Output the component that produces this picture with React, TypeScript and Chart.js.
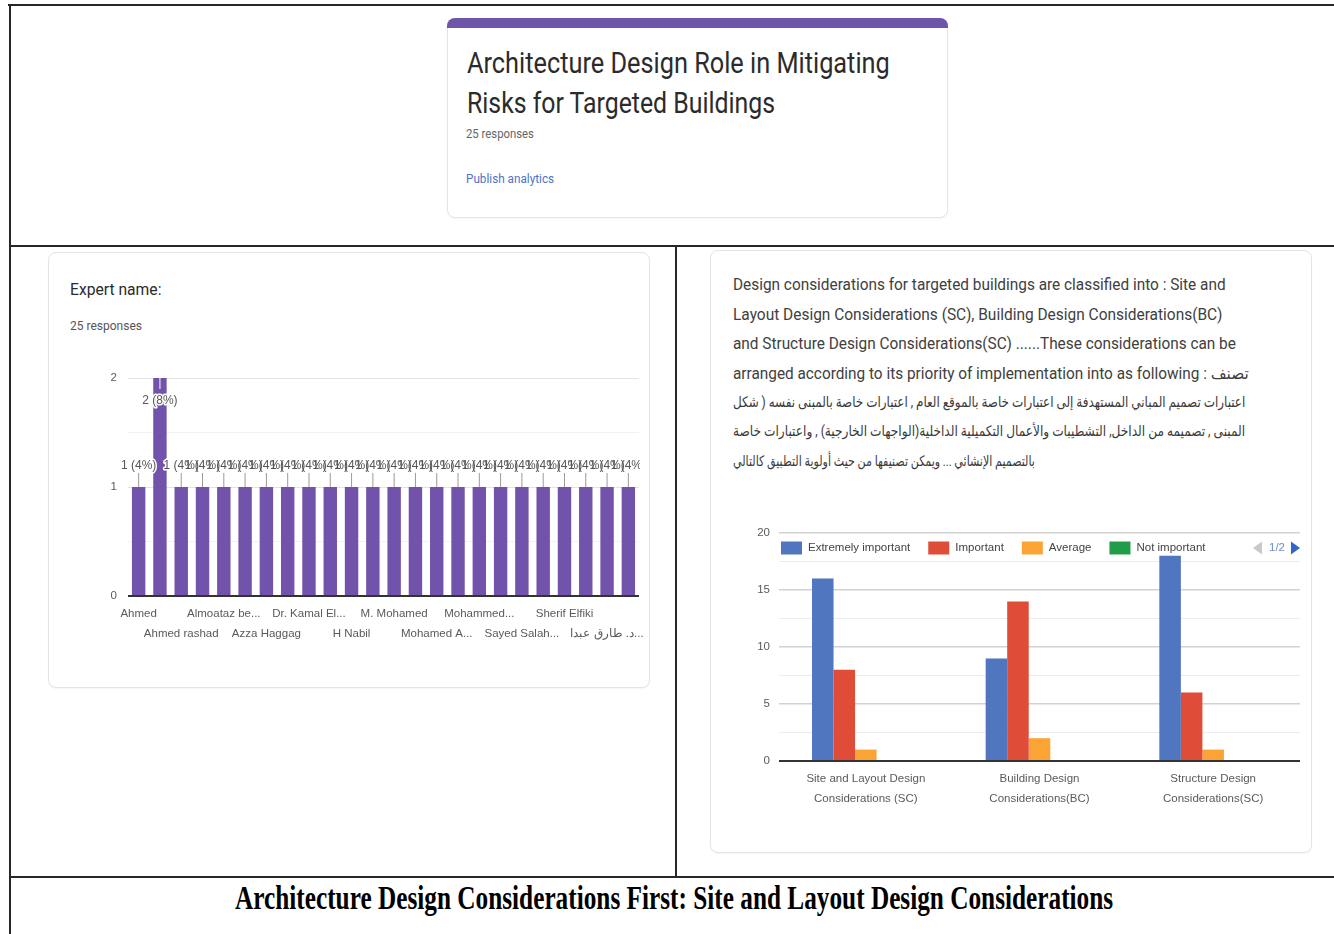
import React, { useEffect, useLayoutEffect, useRef, useState } from "react";
import { Chart, registerables } from "chart.js";
Chart.register(...registerables);

// ---------- data ----------
const RESPONSES = 25;
const formTitleLines = ["Architecture Design Role in Mitigating", "Risks for Targeted Buildings"];
const captionText = "Architecture Design Considerations First: Site and Layout Design Considerations";

const expertNames = [
  "Ahmed", "Expert 2", "Ahmed rashad", "Expert 4", "Almoataz be...", "Expert 6",
  "Azza Haggag", "Expert 8", "Dr. Kamal El...", "Expert 10", "H Nabil", "Expert 12",
  "M. Mohamed", "Expert 14", "Mohamed A...", "Expert 16", "Mohammed...", "Expert 18",
  "Sayed Salah...", "Expert 20", "Sherif Elfiki", "Expert 22", "د. طارق عبدا...", "Expert 24",
];
const expertCounts = [1, 2, 1, 1, 1, 1, 1, 1, 1, 1, 1, 1, 1, 1, 1, 1, 1, 1, 1, 1, 1, 1, 1, 1];
const expertYTicks = [0, 1, 2];

const questionLines = [
  "Design considerations for targeted buildings are classified into : Site and",
  "Layout Design Considerations (SC), Building Design Considerations(BC)",
  "and Structure Design Considerations(SC) ......These considerations can be",
  "arranged according to its priority of implementation into as following : تصنف",
];
const questionArabicLines = [
  "اعتبارات تصميم المباني المستهدفة إلى اعتبارات خاصة بالموقع العام , اعتبارات خاصة بالمبنى نفسه ( شكل",
  "المبنى , تصميمه من الداخل, التشطيبات والأعمال التكميلية الداخلية(الواجهات الخارجية) , واعتبارات خاصة",
  "بالتصميم الإنشائي ... ويمكن تصنيفها من حيث أولوية التطبيق كالتالي",
];

const considerationCategories = [
  ["Site and Layout Design", "Considerations (SC)"],
  ["Building Design", "Considerations(BC)"],
  ["Structure Design", "Considerations(SC)"],
];
const importanceLevels = ["Extremely important", "Important", "Average", "Not important", "Not important at all"];
const extremelyImportant = [16, 9, 18];
const important = [8, 14, 6];
const average = [1, 2, 1];
const notImportant = [0, 0, 0];
const notImportantAtAll = [0, 0, 0];
const importanceColors = ["#4f76be", "#df4d39", "#fca336", "#219c48", "#990099"];
const legendPage = "1/2";

// ---------- helpers ----------
const SANS = "'Liberation Sans', Arial, sans-serif";
const CHART_FONT = 11.5;
Chart.defaults.font.family = SANS;

function FitText(props: {
  text: string; x: number; cy: number; w: number; size: number; color?: string;
  weight?: number | string; family?: string; dir?: "ltr" | "rtl"; lh?: number;
}) {
  const { text, x, cy, w, size, color = "#202124", weight = 400, family = "Roboto, 'DejaVu Sans', sans-serif", dir = "ltr" } = props;
  const lh = props.lh ?? Math.round(size * 1.35);
  const ref = useRef<HTMLSpanElement>(null);
  const [sx, setSx] = useState(1);
  useLayoutEffect(() => {
    const measure = () => {
      const el = ref.current;
      if (!el) return;
      const nw = el.offsetWidth;
      if (nw > 0) setSx(w / nw);
    };
    measure();
    const f: any = (document as any).fonts;
    if (f && f.ready) f.ready.then(measure);
  }, [text, w, size]);
  return (
    <div style={{ position: "absolute", left: x, top: cy - lh / 2, height: lh, lineHeight: lh + "px", whiteSpace: "nowrap" }}>
      <span
        ref={ref}
        dir={dir}
        style={{
          display: "inline-block", transformOrigin: "left center", transform: `scaleX(${sx})`,
          fontSize: size, fontFamily: family, fontWeight: weight as any, color, whiteSpace: "nowrap",
        }}
      >
        {text}
      </span>
    </div>
  );
}

const line = (l: number, t: number, w: number, h: number) => (
  <div style={{ position: "absolute", left: l, top: t, width: w, height: h, background: "#262626" }} />
);

const card = (l: number, t: number, r: number, b: number) => (
  <div style={{
    position: "absolute", left: l, top: t, width: r - l, height: b - t, boxSizing: "border-box",
    border: "1px solid #e4e4e4", borderRadius: 8, background: "#fff", boxShadow: "0 1px 2px rgba(0,0,0,0.04)",
  }} />
);

// ---------- left chart ----------
function ExpertChart() {
  const ref = useRef<HTMLCanvasElement>(null);
  useEffect(() => {
    const tickLabels = expertNames.map((n, i) => (i % 4 === 0 ? n : i % 4 === 2 ? ["", n] : ""));
    const annotations = {
      id: "annotations",
      afterDatasetsDraw(chart: any) {
        const { ctx, chartArea } = chart;
        const meta = chart.getDatasetMeta(0);
        const max = chart.scales.y.max;
        const base = chart.scales.y.getPixelForValue(0);
        ctx.save();
        ctx.strokeStyle = "#333";
        ctx.lineWidth = 2;
        ctx.beginPath();
        ctx.moveTo(chartArea.left, base);
        ctx.lineTo(chartArea.right, base);
        ctx.stroke();
        ctx.beginPath();
        ctx.rect(0, 0, chartArea.right + 1, chart.height);
        ctx.clip();
        ctx.font = `12px ${SANS}`;
        ctx.textAlign = "center";
        ctx.textBaseline = "middle";
        ctx.lineJoin = "round";
        const items = meta.data.map((bar: any, i: number) => {
          const v = expertCounts[i];
          const inside = v >= max;
          return {
            x: bar.x, y: bar.y, inside,
            label: `${v} (${Math.round((v / RESPONSES) * 100)}%)`,
            ty: inside ? bar.y + 23 : bar.y - 21,
          };
        });
        // stems
        items.forEach((it: any) => {
          ctx.lineWidth = 1;
          ctx.strokeStyle = it.inside ? "#ffffff" : "#9a9a9a";
          ctx.beginPath();
          ctx.moveTo(it.x, it.y);
          ctx.lineTo(it.x, it.inside ? it.y + 11 : it.y - 14);
          ctx.stroke();
        });
        // halos, then text
        ctx.strokeStyle = "#ffffff";
        ctx.lineWidth = 3;
        items.forEach((it: any) => ctx.strokeText(it.label, it.x, it.ty));
        ctx.fillStyle = "#555";
        items.forEach((it: any) => ctx.fillText(it.label, it.x, it.ty));
        ctx.restore();
      },
    };
    const chart = new Chart(ref.current as HTMLCanvasElement, {
      type: "bar",
      data: {
        labels: expertNames,
        datasets: [{ label: "Expert name", data: expertCounts, backgroundColor: "#7153ab", barPercentage: 0.63, categoryPercentage: 1 }],
      },
      options: {
        animation: false,
        responsive: false,
        layout: { padding: { top: 18, right: 11, left: 0, bottom: 0 } },
        plugins: { legend: { display: false }, tooltip: { enabled: false } },
        scales: {
          x: {
            grid: { display: false, drawTicks: false },
            border: { display: false },
            ticks: {
              autoSkip: false, maxRotation: 0, minRotation: 0, padding: 8, color: "#5a5a5a",
              font: { size: CHART_FONT, lineHeight: 20 / CHART_FONT },
              callback: (_v: any, i: number) => tickLabels[i],
            },
            afterFit: (s: any) => { s.height = 54; },
          },
          y: {
            min: 0, max: 2,
            ticks: {
              stepSize: 0.5, padding: 11, color: "#5a5a5a", font: { size: CHART_FONT },
              callback: (v: any) => (expertYTicks.includes(Number(v)) ? String(v) : ""),
            },
            grid: {
              drawTicks: false,
              color: (c: any) => (c.tick && c.tick.value === 0 ? "#333" : Number.isInteger(c.tick?.value) ? "#e3e3e3" : "#f2f2f2"),
              lineWidth: 1,
            },
            border: { display: false },
            afterFit: (s: any) => { s.width = 68; },
          },
        },
      } as any,
      plugins: [annotations],
    });
    return () => chart.destroy();
  }, []);
  return <canvas ref={ref} width={590} height={290} style={{ position: "absolute", left: 60, top: 360, width: 590, height: 290 }} />;
}

// ---------- right chart ----------
function ConsiderationChart() {
  const ref = useRef<HTMLCanvasElement>(null);
  useEffect(() => {
    const overlay = {
      id: "overlay",
      afterDatasetsDraw(chart: any) {
        const { ctx, chartArea } = chart;
        const base = chart.scales.y.getPixelForValue(0);
        ctx.save();
        ctx.strokeStyle = "#333";
        ctx.lineWidth = 2;
        ctx.beginPath();
        ctx.moveTo(chartArea.left, base);
        ctx.lineTo(chartArea.right, base);
        ctx.stroke();
        // legend (page 1)
        const y = chartArea.top + 15;
        let x = chartArea.left + 2;
        ctx.font = `${CHART_FONT}px ${SANS}`;
        ctx.textBaseline = "middle";
        ctx.textAlign = "left";
        chart.data.datasets.slice(0, 4).forEach((ds: any) => {
          ctx.fillStyle = ds.backgroundColor;
          ctx.fillRect(x, y - 6.5, 21, 13);
          ctx.fillStyle = "#444";
          ctx.fillText(ds.label, x + 27, y);
          x += 27 + ctx.measureText(ds.label).width + 18;
        });
        // pager
        const r = chartArea.right;
        ctx.fillStyle = "#3366cc";
        ctx.beginPath();
        ctx.moveTo(r - 9, y - 6.5);
        ctx.lineTo(r - 9, y + 6.5);
        ctx.lineTo(r, y);
        ctx.closePath();
        ctx.fill();
        ctx.fillStyle = "#6d8cc9";
        ctx.textAlign = "right";
        ctx.fillText(legendPage, r - 15, y);
        const lx = r - 47;
        ctx.fillStyle = "#c9c9c9";
        ctx.beginPath();
        ctx.moveTo(lx + 9, y - 6.5);
        ctx.lineTo(lx + 9, y + 6.5);
        ctx.lineTo(lx, y);
        ctx.closePath();
        ctx.fill();
        ctx.restore();
      },
    };
    const series = [extremelyImportant, important, average, notImportant, notImportantAtAll];
    const chart = new Chart(ref.current as HTMLCanvasElement, {
      type: "bar",
      data: {
        labels: considerationCategories as any,
        datasets: series.map((d, i) => ({
          label: importanceLevels[i], data: d, backgroundColor: importanceColors[i],
          barPercentage: 1, categoryPercentage: 0.62,
        })),
      },
      options: {
        animation: false,
        responsive: false,
        layout: { padding: { top: 18, right: 10, left: 0, bottom: 0 } },
        plugins: { legend: { display: false }, tooltip: { enabled: false } },
        scales: {
          x: {
            grid: { display: false, drawTicks: false },
            border: { display: false },
            ticks: {
              autoSkip: false, maxRotation: 0, minRotation: 0, padding: 8, color: "#5a5a5a",
              font: { size: CHART_FONT, lineHeight: 20 / CHART_FONT },
            },
            afterFit: (s: any) => { s.height = 54; },
          },
          y: {
            min: 0, max: 20,
            ticks: {
              stepSize: 2.5, padding: 9, color: "#5a5a5a", font: { size: CHART_FONT },
              callback: (v: any) => (Number(v) % 5 === 0 ? String(v) : ""),
            },
            grid: {
              drawTicks: false,
              color: (c: any) => (c.tick && c.tick.value === 0 ? "#333" : c.tick && c.tick.value % 5 === 0 ? "#d2d2d2" : "#ececec"),
              lineWidth: (c: any) => (c.tick && c.tick.value % 5 === 0 ? 1.5 : 1),
            },
            border: { display: false },
            afterFit: (s: any) => { s.width = 39; },
          },
        },
      } as any,
      plugins: [overlay],
    });
    return () => chart.destroy();
  }, []);
  return <canvas ref={ref} width={570} height={300} style={{ position: "absolute", left: 740, top: 515, width: 570, height: 300 }} />;
}

// ---------- page ----------
export default function App() {
  const engCenters = [285, 315, 344, 374];
  const engWidths = [493, 489, 503, 516];
  const arCenters = [402, 431, 461];
  const arWidths = [512, 512, 302];
  return (
    <div style={{ position: "absolute", left: 0, top: 0, width: 1334, height: 934, overflow: "hidden", background: "#fff" }}>
      {/* frame lines */}
      {line(8, 4, 1326, 2)}
      {line(9, 4, 2, 930)}
      {line(9, 245, 1325, 2)}
      {line(675, 245, 2, 633)}
      {line(9, 876, 1325, 2)}

      {/* top card */}
      {card(447, 18, 948, 218)}
      <div style={{ position: "absolute", left: 447, top: 18, width: 501, height: 10, background: "#6e55a9", borderRadius: "8px 8px 0 0" }} />
      <FitText text={formTitleLines[0]} x={467} cy={63} w={423} size={29.5} lh={40} color="#2b2b2b" />
      <FitText text={formTitleLines[1]} x={467} cy={103} w={308} size={29.5} lh={40} color="#2b2b2b" />
      <FitText text={`${RESPONSES} responses`} x={466} cy={133} w={68} size={12} lh={16} color="#666" />
      <FitText text="Publish analytics" x={466} cy={178} w={88} size={12} lh={16} color="#4b74c9" />

      {/* left card */}
      {card(48, 252, 650, 688)}
      <FitText text="Expert name:" x={70} cy={290} w={91} size={16} lh={22} color="#2b2b2b" />
      <FitText text={`${RESPONSES} responses`} x={70} cy={325} w={72} size={12} lh={16} color="#555" />
      <ExpertChart />

      {/* right card */}
      {card(710, 250, 1312, 853)}
      {questionLines.map((t, i) => (
        <FitText key={"q" + i} text={t} x={733} cy={engCenters[i]} w={engWidths[i]} size={16} lh={22} color="#404040" />
      ))}
      {questionArabicLines.map((t, i) => (
        <FitText key={"a" + i} text={t} x={733} cy={arCenters[i]} w={arWidths[i]} size={14.5} lh={22} color="#3a3a3a" dir="rtl" />
      ))}
      <ConsiderationChart />

      {/* caption */}
      <FitText text={captionText} x={235} cy={898} w={878} size={34} lh={40} weight={700}
        family="'Liberation Serif', 'Times New Roman', serif" color="#000" />
    </div>
  );
}
